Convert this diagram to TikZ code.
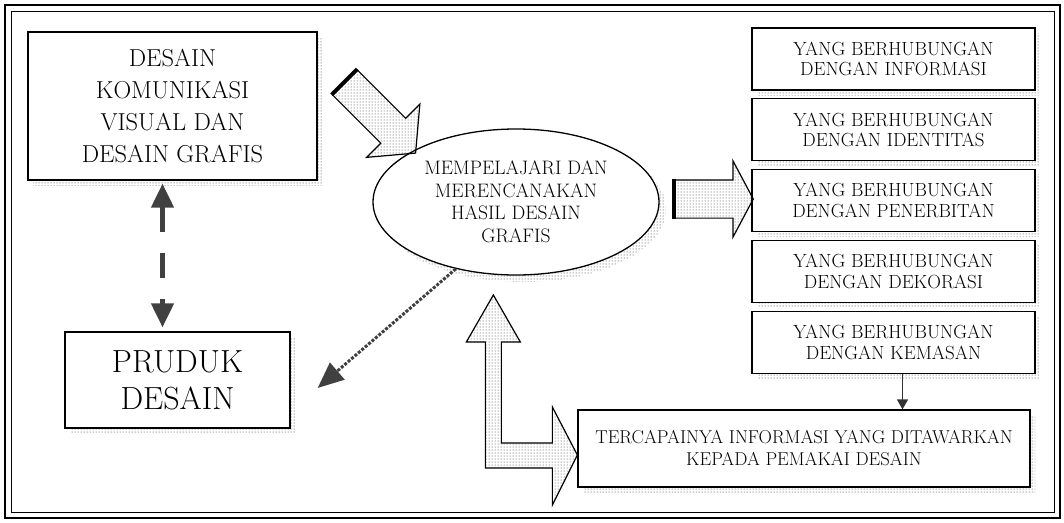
\documentclass[tikz,border=0pt]{standalone}
\usepackage{fontspec}
\usetikzlibrary{shapes.geometric, shapes.arrows, arrows.meta, positioning, patterns, shadows}
\tikzset{
  shadowed/.style = {drop shadow={shadow xshift=5pt, shadow yshift=-5pt, opacity=1, pattern=dots, pattern color=black!85}},
  block/.style = {rectangle, draw, line width=1.3pt, fill=white, align=center, shadowed},
  topic/.style = {block, minimum width=283pt, minimum height=62pt, font=\fontsize{19}{20.5}\selectfont},
  bubble/.style = {ellipse, draw, line width=1.3pt, fill=white, align=center, minimum width=286pt, minimum height=146pt, font=\fontsize{19.5}{22.5}\selectfont,
    drop shadow={shadow xshift=7pt, shadow yshift=-7pt, opacity=1, pattern=dots, pattern color=black!85}},
  fatarrow/.style = {single arrow, draw, line width=1.2pt, pattern=dots, pattern color=black!80, inner sep=0pt},
  chain/.style = {line width=4.5pt, black!75, dash pattern=on 25pt off 21pt, {Triangle[length=24pt,width=22pt]}-{Triangle[length=24pt,width=22pt]}},
  dotline/.style = {line width=3pt, black!75, dash pattern=on 3pt off 1.5pt, -{Triangle[length=26pt,width=22pt]}},
  thinchain/.style = {line width=1.5pt, black!80, -{Triangle[length=10pt,width=11pt]}}
}
\begin{document}
\begin{tikzpicture}[x=1pt, y=-1pt]
\useasboundingbox (0,0) rectangle (1064,522);

% frame
\draw[line width=1.8pt] (5,5) rectangle (1060,518);
\draw[line width=0.7pt] (11,11) rectangle (1054,512);

\node[block, minimum width=289pt, minimum height=148pt, font=\fontsize{24.5}{32}\selectfont] (desain) at (172.5,106) {DESAIN\\KOMUNIKASI\\VISUAL DAN\\DESAIN GRAFIS};
\node[block, minimum width=225pt, minimum height=96pt, font=\fontsize{32}{37}\selectfont] (produk) at (177.5,380) {PRUDUK\\DESAIN};
\node[bubble] (proses) at (516,202) {MEMPELAJARI DAN\\MERENCANAKAN\\HASIL DESAIN\\GRAFIS};

\node[topic] (informasi) at (893.5,59) {YANG BERHUBUNGAN\\DENGAN INFORMASI};
\node[topic, below=7.5pt of informasi] (identitas) {YANG BERHUBUNGAN\\DENGAN IDENTITAS};
\node[topic, below=7.5pt of identitas] (penerbitan) {YANG BERHUBUNGAN\\DENGAN PENERBITAN};
\node[topic, below=7.5pt of penerbitan] (dekorasi) {YANG BERHUBUNGAN\\DENGAN DEKORASI};
\node[topic, below=7.5pt of dekorasi] (kemasan) {YANG BERHUBUNGAN\\DENGAN KEMASAN};

\node[block, minimum width=452pt, minimum height=77pt, font=\fontsize{18.6}{22}\selectfont] (tercapai) at (804,448.5) {TERCAPAINYA INFORMASI YANG DITAWARKAN\\KEPADA PEMAKAI DESAIN};

% block arrows
\node[fatarrow, rotate=-45, minimum height=100pt, text height=17pt, text depth=17pt, single arrow head extend=20pt, single arrow tip angle=100] (toproses) at (375,112.5) {};
\draw[line width=4pt] (toproses.before tail) -- (toproses.after tail);
\node[fatarrow, right=14pt of proses, yshift=3pt, minimum height=79pt, text height=18.5pt, text depth=18.5pt, single arrow head extend=19pt, single arrow tip angle=124] (tojenis) {};
\draw[line width=4pt] (tojenis.before tail) -- (tojenis.after tail);

\draw[line width=1.2pt, pattern=dots, pattern color=black!80] ([yshift=-6.5pt]tercapai.west) -- ++(-25,50) -- ++(0,-37) -- ++(-67,0) -- ++(0,-126) -- ++(-19,0) -- ++(27,-47) -- ++(27,47) -- ++(-19,0) -- ++(0,101) -- ++(51,0) -- ++(0,-36) -- cycle;

% thin connectors
\draw[chain, shorten <=3pt, shorten >=4pt] ([xshift=-10pt]desain.south) -- ([xshift=-10pt]desain.south |- produk.north);
\draw[dotline] (proses.-132) -- ([xshift=27pt,yshift=-8pt]produk.east);
\draw[thinchain] ([xshift=9pt]kemasan.south) -- ([xshift=9pt]kemasan.south |- tercapai.north);

\end{tikzpicture}
\end{document}
